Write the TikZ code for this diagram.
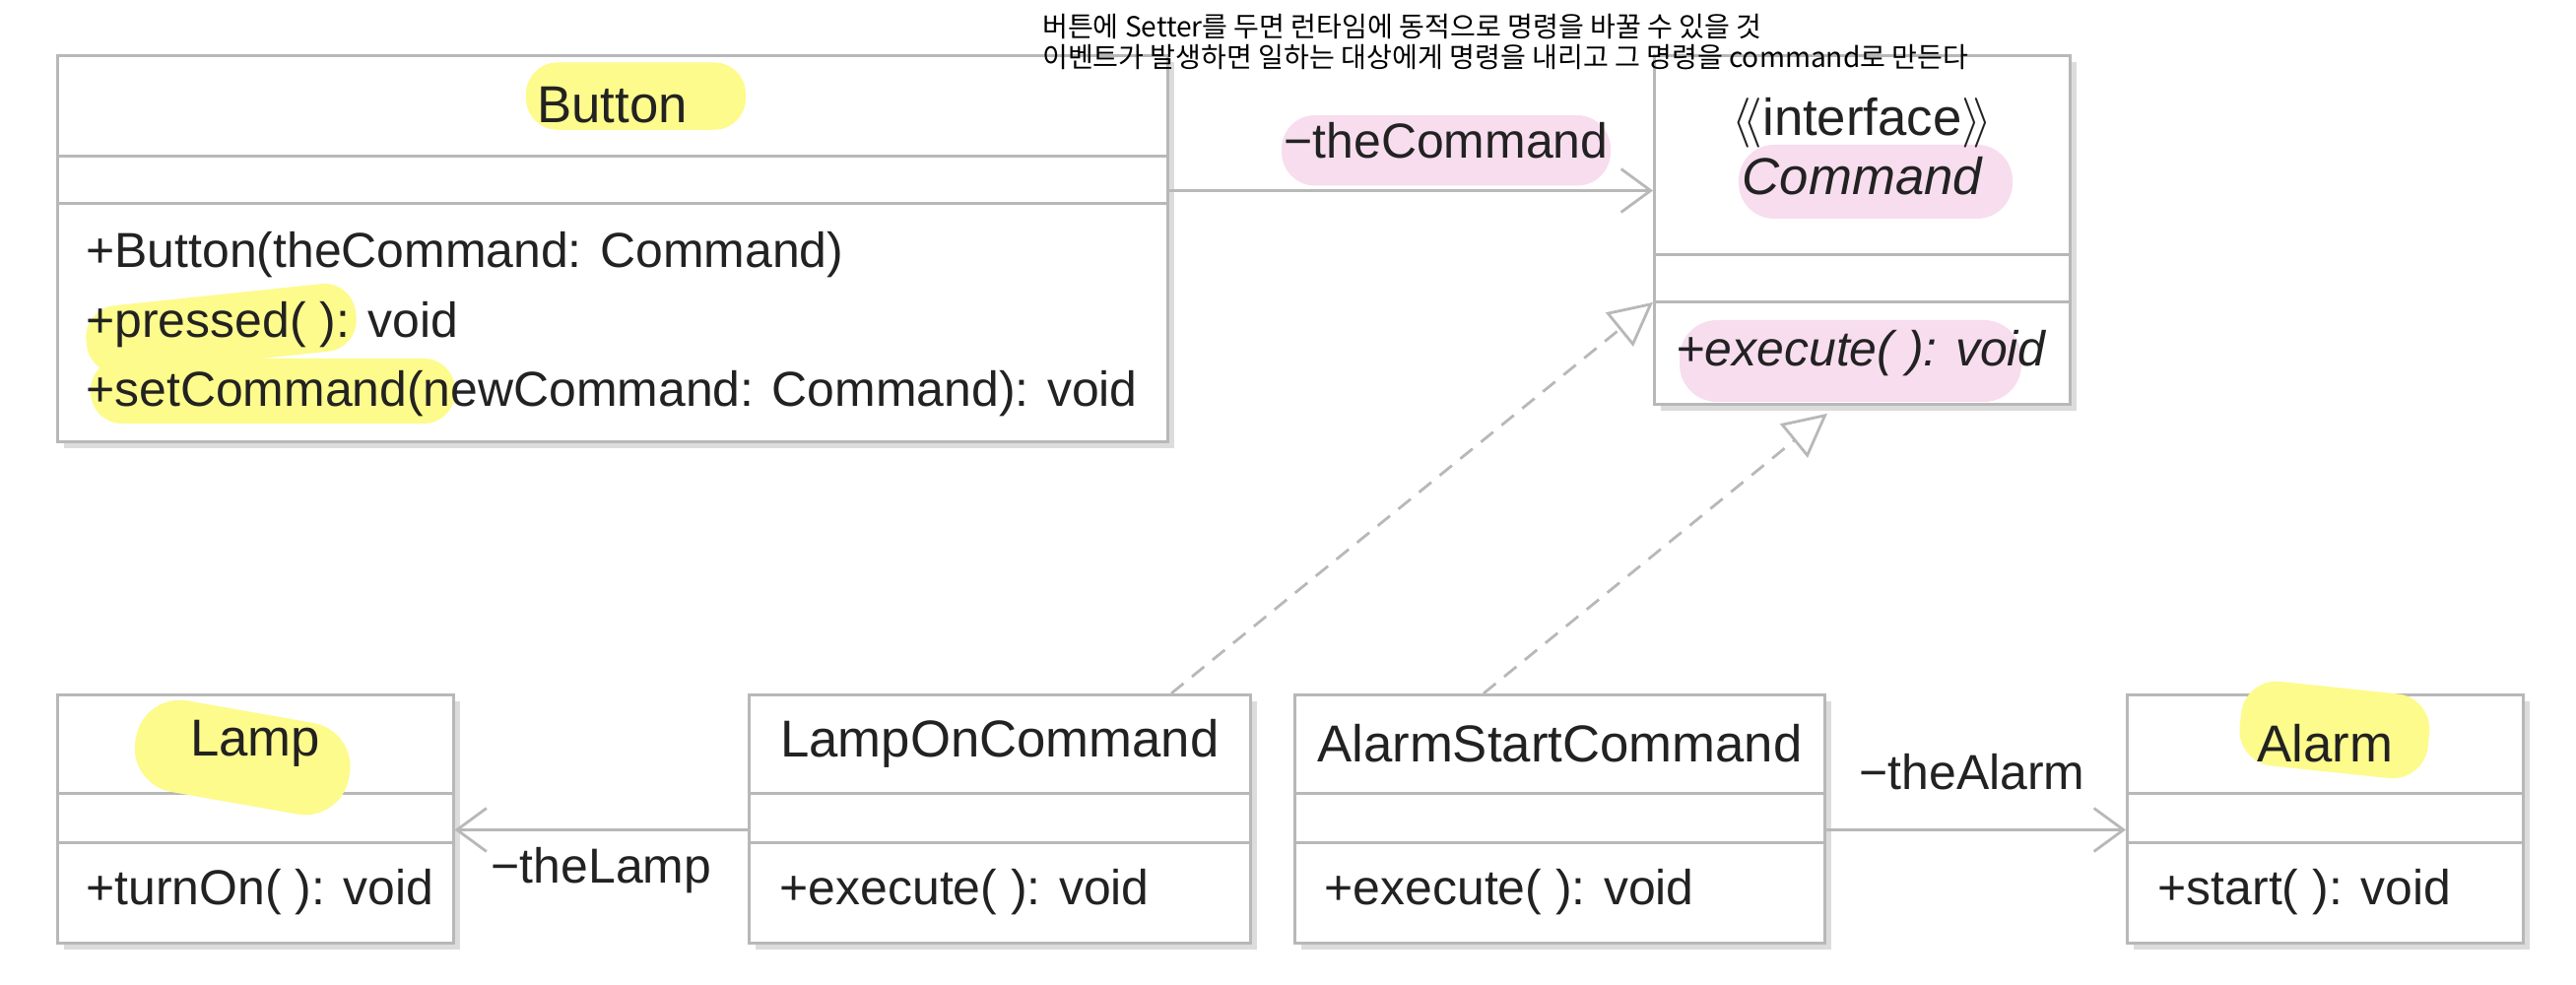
\documentclass[tikz,border=0pt]{standalone}
\usepackage{fontspec}
\setmainfont{Liberation Sans}
\newfontfamily\kofont{Noto Sans CJK KR}
\usetikzlibrary{positioning,arrows.meta,shadows}
\definecolor{umlgray}{HTML}{B8B8B8}
\definecolor{shadowgray}{HTML}{DCDCDC}
\definecolor{hlyellow}{HTML}{FDFB8C}
\definecolor{hlpink}{HTML}{F7DDEE}
\definecolor{txt}{HTML}{222222}

\begin{document}
\begin{tikzpicture}[
	cls/.style={draw=umlgray, line width=0.8pt, fill=white, anchor=north west, inner sep=0pt,
		drop shadow={shadow xshift=0.07cm, shadow yshift=-0.07cm, fill=shadowgray, opacity=1}},
	divider/.style={draw=umlgray, line width=0.8pt},
	clsname/.style={font=\fontsize{15}{18}\selectfont, text=txt, inner sep=0pt},
	op/.style={anchor=west, inner sep=0pt, font=\fontsize{14.2}{17}\selectfont, text=txt},
	role/.style={font=\fontsize{14.2}{17}\selectfont, text=txt, inner sep=0pt},
	assoc/.style={draw=umlgray, line width=0.8pt, -{Straight Barb[length=3mm,width=4.4mm]}},
	realize/.style={draw=umlgray, line width=0.8pt, dash pattern=on 1.6mm off 1.1mm,
		-{Triangle[open,length=4.4mm,width=4.4mm]}},
	note/.style={anchor=west, inner sep=0pt, font=\kofont\fontsize{8}{9.5}\selectfont}]
	\useasboundingbox (0,0) rectangle (26.15,-10);

	% Class boxes
	\node (button)		[cls, minimum width=11.27cm, minimum height=3.92cm] at (0.567,-0.55) {};
	\node (cmd)				[cls, minimum width=4.22cm, minimum height=3.54cm] at (16.78,-0.55) {};
	\node (lamp)			[cls, minimum width=4.02cm, minimum height=2.52cm] at (0.567,-7.04) {};
	\node (lampOn)		[cls, minimum width=5.09cm, minimum height=2.52cm] at (7.59,-7.04) {};
	\node (alarmStart)[cls, minimum width=5.38cm, minimum height=2.52cm] at (13.13,-7.04) {};
	\node (alarm)			[cls, minimum width=4.02cm, minimum height=2.52cm] at (21.58,-7.04) {};

	% Compartment lines
	\draw[divider] ([yshift=-1.035cm]button.north west) -- ([yshift=-1.035cm]button.north east);
	\draw[divider] ([yshift=-1.518cm]button.north west) -- ([yshift=-1.518cm]button.north east);
	\draw[divider] ([yshift=-2.035cm]cmd.north west) -- ([yshift=-2.035cm]cmd.north east);
	\draw[divider] ([yshift=-2.519cm]cmd.north west) -- ([yshift=-2.519cm]cmd.north east);
	\draw[divider] ([yshift=-1.017cm]lamp.north west) -- ([yshift=-1.017cm]lamp.north east);
	\draw[divider] ([yshift=-1.517cm]lamp.north west) -- ([yshift=-1.517cm]lamp.north east);
	\draw[divider] ([yshift=-1.017cm]lampOn.north west) -- ([yshift=-1.017cm]lampOn.north east);
	\draw[divider] ([yshift=-1.517cm]lampOn.north west) -- ([yshift=-1.517cm]lampOn.north east);
	\draw[divider] ([yshift=-1.017cm]alarmStart.north west) -- ([yshift=-1.017cm]alarmStart.north east);
	\draw[divider] ([yshift=-1.517cm]alarmStart.north west) -- ([yshift=-1.517cm]alarmStart.north east);
	\draw[divider] ([yshift=-1.017cm]alarm.north west) -- ([yshift=-1.017cm]alarm.north east);
	\draw[divider] ([yshift=-1.517cm]alarm.north west) -- ([yshift=-1.517cm]alarm.north east);

	% Highlighter marks
	\fill[hlyellow, rounded corners=0.32cm] (5.34,-0.634) rectangle (7.57,-1.318);
	\fill[hlyellow, rounded corners=0.32cm, rotate around={6:(2.25,-3.33)}] (0.87,-2.99) rectangle (3.62,-3.68);
	\fill[hlyellow, rounded corners=0.32cm] (0.92,-3.64) rectangle (4.62,-4.30);
	\fill[hlyellow, rounded corners=0.45cm, rotate around={-10:(2.46,-7.70)}] (1.36,-7.22) rectangle (3.56,-8.16);
	\fill[hlyellow, rounded corners=0.36cm, rotate around={-6:(23.70,-7.40)}] (22.74,-6.98) rectangle (24.66,-7.84);
	\fill[hlpink, rounded corners=0.34cm] (13.01,-1.17) rectangle (16.35,-1.885);
	\fill[hlpink, rounded corners=0.36cm] (17.65,-1.47) rectangle (20.43,-2.22);
	\fill[hlpink, rounded corners=0.38cm] (17.05,-3.25) rectangle (20.52,-4.08);

	% Class names
	\node (buttonName)			[clsname] at ([yshift=-0.52cm]button.north) {Button};
	\node (cmdStereo)				[clsname] at ([yshift=-0.70cm]cmd.north) {$\langle\!\langle$interface$\rangle\!\rangle$};
	\node (cmdName)					[clsname, font=\fontsize{15}{18}\selectfont\itshape] at ([yshift=-1.235cm]cmd.north) {Command};
	\node (lampName)				[clsname] at ([yshift=-0.51cm]lamp.north) {Lamp};
	\node (lampOnName)			[clsname] at ([yshift=-0.51cm]lampOn.north) {LampOnCommand};
	\node (alarmStartName)	[clsname] at ([yshift=-0.51cm]alarmStart.north) {AlarmStartCommand};
	\node (alarmName)				[clsname] at ([yshift=-0.51cm]alarm.north) {Alarm};

	% Operations
	\node (buttonOp1)	[op] at ([xshift=0.30cm, yshift=-2.035cm]button.north west) {+Button(theCommand: Command)};
	\node (buttonOp2)	[op] at ([xshift=0.30cm, yshift=-2.75cm]button.north west) {+pressed( ): void};
	\node (buttonOp3)	[op] at ([xshift=0.30cm, yshift=-3.45cm]button.north west) {+setCommand(newCommand: Command): void};
	\node (cmdOp)			[op, font=\fontsize{14.2}{17}\selectfont\itshape] at ([xshift=0.23cm, yshift=-3.036cm]cmd.north west) {+execute( ): void};
	\node (lampOp)		[op] at ([xshift=0.30cm, yshift=-2.017cm]lamp.north west) {+turnOn( ): void};
	\node (lampOnOp)	[op] at ([xshift=0.32cm, yshift=-2.017cm]lampOn.north west) {+execute( ): void};
	\node (alarmStartOp)[op] at ([xshift=0.31cm, yshift=-2.017cm]alarmStart.north west) {+execute( ): void};
	\node (alarmOp)		[op] at ([xshift=0.32cm, yshift=-2.017cm]alarm.north west) {+start( ): void};

	% Associations and realizations
	\draw[assoc]		([yshift=-1.385cm]button.north east) -- ([yshift=-1.385cm]cmd.north west);
	\draw[assoc]		([yshift=-1.385cm]lampOn.north west) -- ([yshift=-1.385cm]lamp.north east);
	\draw[assoc]		([yshift=-1.385cm]alarmStart.north east) -- ([yshift=-1.385cm]alarm.north west);
	\draw[realize]	([xshift=4.30cm]lampOn.north west) -- ([yshift=-2.519cm]cmd.north west);
	\draw[realize]	([xshift=1.93cm]alarmStart.north west) -- ([xshift=1.77cm, yshift=-0.08cm]cmd.south west);

	% Role names
	\node (theCommand)	[role] at (14.68,-1.43) {−theCommand};
	\node (theLamp)			[role] at (6.105,-8.84) {−theLamp};
	\node (theAlarm)		[role] at (20.02,-7.84) {−theAlarm};

	% Notes on top
	\node (note1) [note] at (10.575,-0.267) {버튼에 Setter를 두면 런타임에 동적으로 명령을 바꿀 수 있을 것};
	\node (note2) [note] at (10.575,-0.584) {이벤트가 발생하면 일하는 대상에게 명령을 내리고 그 명령을 command로 만든다};
\end{tikzpicture}
\end{document}
